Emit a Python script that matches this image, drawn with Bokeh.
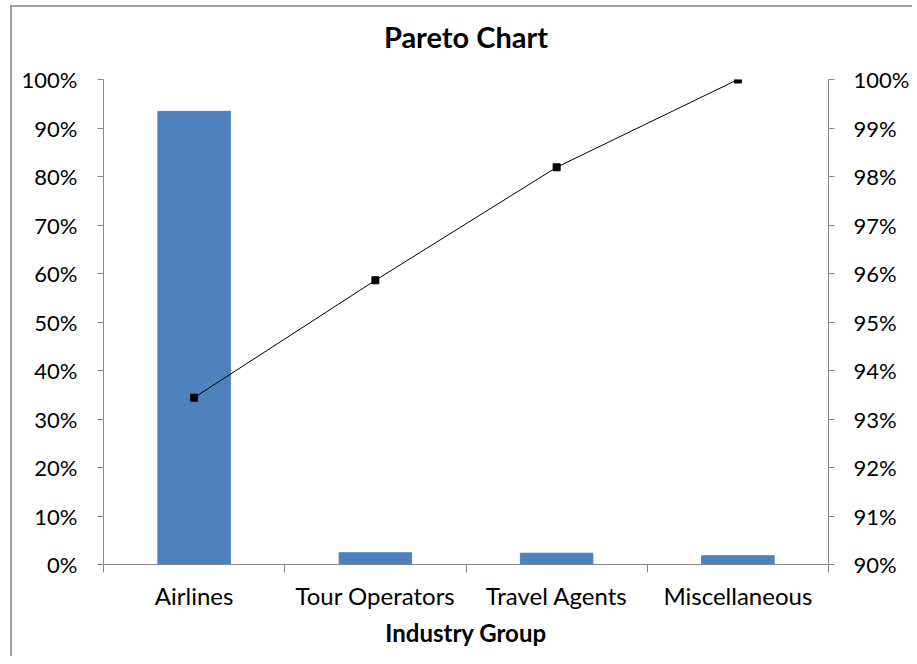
from bokeh.plotting import figure
from bokeh.models import (Range1d, LinearAxis, FixedTicker, NumeralTickFormatter,
                          ColumnDataSource)
from bokeh.embed import file_html
from bokeh.resources import INLINE

title_text = "Pareto Chart"
x_title = "Industry Group"
categories = ["Airlines", "Tour Operators", "Travel Agents", "Miscellaneous"]
share = [0.9344, 0.0242, 0.0233, 0.0181]
cumulative = [0.9344, 0.9586, 0.9819, 1.0]
left_ticks = [0.0, 0.1, 0.2, 0.3, 0.4, 0.5, 0.6, 0.7, 0.8, 0.9, 1.0]
right_ticks = [0.90, 0.91, 0.92, 0.93, 0.94, 0.95, 0.96, 0.97, 0.98, 0.99, 1.00]

FONT = "Lato"
AXIS_GRAY = "#868686"

xpos = [i + 0.5 for i in range(len(categories))]
src = ColumnDataSource(dict(x=xpos, share=share, cum=cumulative, cat=categories))

p = figure(width=896, height=650, frame_width=725, frame_height=485,
           x_range=Range1d(0, len(categories)), y_range=Range1d(0, 1),
           output_backend="svg", toolbar_location=None,
           min_border_left=91, min_border_right=80, min_border_top=72,
           min_border_bottom=92, title=title_text)
p.margin = (5, 0, 0, 10)
p.extra_y_ranges = {"cum": Range1d(0.9, 1.0)}

p.title.align = "center"
p.title.vertical_align = "bottom"
p.title.text_font = FONT
p.title.text_font_size = "29px"
p.title.text_font_style = "bold"
p.title.text_color = "black"
p.title.standoff = 0
p.title.padding = dict(left=0, right=0, top=0, bottom=26)

p.outline_line_color = None
p.xgrid.grid_line_color = None
p.ygrid.grid_line_color = None
p.background_fill_color = "white"
p.border_fill_color = "white"
p.styles = {"border-left": "2px solid #a0a0a0", "border-top": "2px solid #a0a0a0"}

p.vbar(x="x", top="share", width=0.4, source=src, color="#4F81BD")
p.line(x="x", y="cum", source=src, y_range_name="cum", line_color="black", line_width=1)
p.scatter(x="x", y="cum", source=src, y_range_name="cum", marker="square",
          size=7, fill_color="black", line_color="black")

# x axis
xa = p.xaxis[0]
xa.ticker = FixedTicker(ticks=xpos, minor_ticks=[0, 1, 2, 3, 4])
xa.major_label_overrides = {x: c for x, c in zip(xpos, categories)}
xa.major_tick_line_color = None
xa.major_tick_out = 0
xa.minor_tick_line_color = AXIS_GRAY
xa.minor_tick_out = 8
xa.minor_tick_in = 0
xa.axis_line_color = AXIS_GRAY
xa.major_label_text_font = FONT
xa.major_label_text_font_size = "24px"
xa.major_label_text_color = "black"
xa.major_label_standoff = 8
xa.axis_label = x_title
xa.axis_label_text_font = FONT
xa.axis_label_text_font_size = "24px"
xa.axis_label_text_font_style = "bold"
xa.axis_label_text_color = "black"
xa.axis_label_standoff = 5

# left axis
ya = p.yaxis[0]
ya.ticker = FixedTicker(ticks=left_ticks)
ya.formatter = NumeralTickFormatter(format="0%")
ya.axis_line_color = AXIS_GRAY
ya.major_tick_line_color = AXIS_GRAY
ya.major_tick_out = 6
ya.major_tick_in = 0
ya.minor_tick_line_color = None
ya.major_label_text_font = FONT
ya.major_label_text_font_size = "22px"
ya.major_label_text_color = "black"
ya.major_label_standoff = 20

# right axis
ra = LinearAxis(y_range_name="cum", ticker=FixedTicker(ticks=right_ticks),
                formatter=NumeralTickFormatter(format="0%"))
ra.axis_line_color = AXIS_GRAY
ra.major_tick_line_color = AXIS_GRAY
ra.major_tick_out = 6
ra.major_tick_in = 0
ra.minor_tick_line_color = None
ra.major_label_text_font = FONT
ra.major_label_text_font_size = "22px"
ra.major_label_text_color = "black"
ra.major_label_standoff = 19
p.add_layout(ra, "right")

open("out.html", "w").write(file_html(p, INLINE))
